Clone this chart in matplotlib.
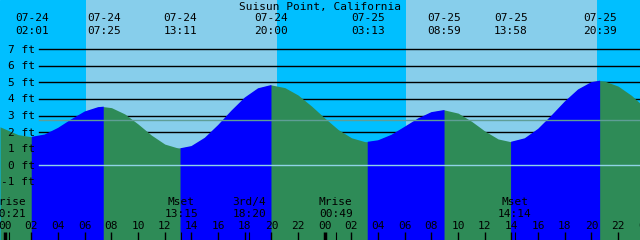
import numpy as np
import matplotlib
matplotlib.use("Agg")
import matplotlib.pyplot as plt
from matplotlib import transforms

# tide height (ft) against hours since 07-24 00:00
hours = [-0.36, 0, 1, 2.02, 3, 4, 5, 6, 7, 7.42, 8, 9, 10, 11, 12, 13, 13.18,
         14, 15, 16, 17, 18, 19, 20, 21, 22, 23, 24, 25, 26, 27, 27.22,
         28, 29, 30, 31, 32, 32.98, 34, 35, 36, 37, 37.97,
         39, 40, 41, 42, 43, 44, 44.65, 45, 46, 47, 47.64]
heights = [2.32, 2.20, 1.85, 1.72, 1.86, 2.26, 2.78, 3.25, 3.51, 3.54, 3.48, 3.10,
           2.49, 1.82, 1.28, 1.04, 1.03,
           1.16, 1.66, 2.43, 3.30, 4.09, 4.65, 4.85, 4.69, 4.24, 3.58, 2.85, 2.16,
           1.66, 1.43, 1.42,
           1.51, 1.84, 2.33, 2.83, 3.21, 3.34, 3.15, 2.66, 2.07, 1.59, 1.42,
           1.63, 2.20, 3.00, 3.85, 4.58, 5.02, 5.11, 5.08, 4.78, 4.22, 3.75]

# high / low tides shown along the top
tide_dates = ["07-24", "07-24", "07-24", "07-24", "07-25", "07-25", "07-25", "07-25"]
tide_times = ["02:01", "07:25", "13:11", "20:00", "03:13", "08:59", "13:58", "20:39"]

# moon events along the bottom
moon_names = ["Mrise", "Mset", "3rd/4", "Mrise", "Mset"]
moon_times = ["00:21", "13:15", "18:20", "00:49", "14:14"]
moon_days = [0, 0, 0, 1, 1]

# daylight (sunrise, sunset) in hours
daylight = [(6.09, 20.42), (30.09, 44.43)]

levels = [7, 6, 5, 4, 3, 2, 1, 0, -1]
mean_level = 2.73

NIGHT = "#00bfff"
DAY = "#87ceeb"
RISE = "#0000ff"
FALL = "#2e8b57"

plt.rcParams['font.family'] = ['DejaVu Sans Mono']
FS = 8

def to_hours(hhmm, day):
    hh, mm = hhmm.split(":")
    return 24 * day + int(hh) + int(mm) / 60.0

t = np.array(hours)
h = np.array(heights)

fig = plt.figure(figsize=(6.4, 2.4), dpi=100)
ax = fig.add_axes([0, 0, 1, 1])
ax.set_xlim(-0.36, 47.64)
ax.set_ylim(-4.51, 9.98)
ax.set_facecolor(NIGHT)
ax.axis("off")
ax.add_patch(plt.Rectangle((0, 0), 1, 1, transform=ax.transAxes, color=NIGHT, zorder=0))

for sr, ss in daylight:
    ax.axvspan(sr, ss, color=DAY, lw=0, zorder=1)

x0 = 39 / 640.0
for lv in levels:
    if lv == 0:
        continue
    ax.axhline(lv, xmin=x0, xmax=1, color="black", lw=1.0, zorder=2)

# water: green everywhere, blue over the rising stretches
rising = np.diff(h) > 0
rise_pt = np.zeros(len(h), dtype=bool)
rise_pt[:-1] |= rising
rise_pt[1:] |= rising
ax.fill_between(t, -5, h, color=FALL, lw=0, zorder=3)
ax.fill_between(t, -5, h, where=rise_pt, color=RISE, lw=0, zorder=4)

ax.axhline(0, xmin=x0, xmax=1, color="#8fd3e6", lw=1.0, zorder=5)
ax.axhline(mean_level, xmin=x0, xmax=1, color="#5f9e96", lw=1.0, zorder=5)

# y labels
ylab_tr = transforms.offset_copy(
    transforms.blended_transform_factory(ax.transAxes, ax.transData),
    fig=fig, x=0, y=-3.4, units="dots")
for lv in levels:
    ax.text(35 / 640.0, lv, "%d ft" % lv, transform=ylab_tr, ha="right",
            va="baseline", fontsize=FS, color="black", zorder=6)

xt = transforms.blended_transform_factory(ax.transData, ax.transAxes)

def yfrac(px):
    return 1 - px / 240.0

ax.text(0.5, yfrac(10), "Suisun Point, California", transform=ax.transAxes,
        ha="center", va="baseline", fontsize=FS, zorder=6)

for d, tm in zip(tide_dates, tide_times):
    day = 0 if d == "07-24" else 1
    x = to_hours(tm, day)
    ax.text(x, yfrac(21), d, transform=xt, ha="center", va="baseline", fontsize=FS, zorder=6)
    ax.text(x, yfrac(34), tm, transform=xt, ha="center", va="baseline", fontsize=FS, zorder=6)

# hour ticks along the bottom
for hr in range(0, 49, 2):
    ax.text(hr, yfrac(229.3), "%02d" % (hr % 24), transform=xt, ha="center",
            va="baseline", fontsize=FS, zorder=6)
    lw = 2.5 if hr % 24 == 0 else 1.0
    ax.vlines(hr, 0, 8 / 240.0, transform=xt, color="black", lw=lw, zorder=6)

for name, tm, day in zip(moon_names, moon_times, moon_days):
    x = to_hours(tm, day)
    ax.text(x, yfrac(205), name, transform=xt, ha="center", va="baseline", fontsize=FS, zorder=6)
    ax.text(x, yfrac(217.3), tm, transform=xt, ha="center", va="baseline", fontsize=FS, zorder=6)
    ax.vlines(x, 0, 8 / 240.0, transform=xt, color="black", lw=0.8, zorder=6)

fig.savefig("out.png", dpi=100)
